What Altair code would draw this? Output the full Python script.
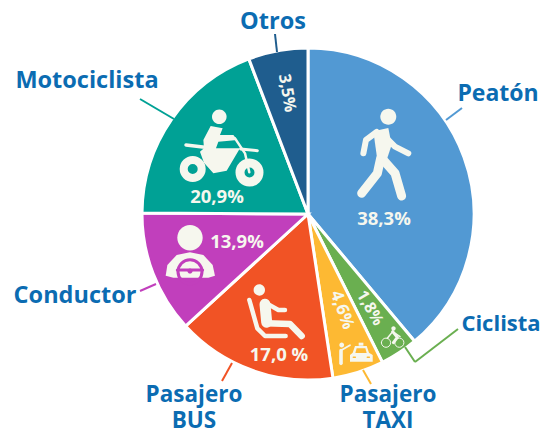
import altair as alt
import pandas as pd

categories = ["Peatón", "Ciclista", "Pasajero TAXI", "Pasajero BUS", "Conductor", "Motociclista", "Otros"]
# drawn share of each wedge, as measured on the picture (the printed labels differ)
drawn_share = [38.9, 3.7, 5.0, 15.6, 11.9, 19.1, 5.8]
colors = ["#5299d3", "#6aaf50", "#fdb933", "#f15325", "#c13fbc", "#00a195", "#1f5d8e"]
order = list(range(len(categories)))

OFF = 8
BLUE = "#0b6cb2"
ICON = "#f6f7ee"
FONT = "Open Sans"

df = pd.DataFrame({"cat": categories, "value": drawn_share, "idx": order})
one = pd.DataFrame({"a": [0]})

pie = alt.Chart(df).mark_arc(outerRadius=166, stroke="white", strokeWidth=3).encode(
    theta=alt.Theta("value:Q", stack=True),
    order=alt.Order("idx:Q"),
    color=alt.Color("cat:N", scale=alt.Scale(domain=categories, range=colors), legend=None),
    x=alt.value(308 - OFF),
    y=alt.value(214 - OFF),
)


def text(label, x, y, size=23.5, color=BLUE, angle=0):
    return alt.Chart(pd.DataFrame({"t": [label]})).mark_text(
        font=FONT, fontWeight="bold", fontSize=size, color=color, angle=angle,
        align="center", baseline="middle", lineBreak="\n", lineHeight=25.5,
    ).encode(text="t:N", x=alt.value(x - OFF), y=alt.value(y - OFF))


def rule(x1, y1, x2, y2, color):
    return alt.Chart(one).mark_rule(color=color, strokeWidth=2).encode(
        x=alt.value(x1 - OFF), y=alt.value(y1 - OFF), x2=alt.value(x2 - OFF), y2=alt.value(y2 - OFF)
    )


def line_path(points, cx, cy):
    return "M" + " L".join(f"{x - cx:.1f} {y - cy:.1f}" for x, y in points)


def glyph(path, cx, cy, color=ICON, filled=True, sw=0):
    # size 4 makes one path unit equal one pixel
    return alt.Chart(one).mark_point(
        shape=path, size=4, filled=filled, opacity=1,
        fill=color if filled else "transparent", stroke=color, strokeWidth=sw,
        strokeCap="round", strokeJoin="round",
    ).encode(x=alt.value(cx - OFF), y=alt.value(cy - OFF))


def dot(cx, cy, r, color=ICON):
    p = f"M{-r} 0 A{r} {r} 0 1 1 {r} 0 A{r} {r} 0 1 1 {-r} 0 Z"
    return glyph(p, cx, cy, color=color)


def ring(cx, cy, r, sw, color=ICON):
    p = f"M{-r} 0 A{r} {r} 0 1 1 {r} 0 A{r} {r} 0 1 1 {-r} 0 Z"
    return glyph(p, cx, cy, color=color, filled=False, sw=sw)


def stroke(points, sw, color=ICON, k=1 / 3, ox=0, oy=0):
    pts = [(ox + x * k, oy + y * k) for x, y in points]
    cx, cy = pts[0]
    return glyph(line_path(pts, cx, cy), cx, cy, color=color, filled=False, sw=sw)


def poly(points, color=ICON, k=1 / 3, ox=0, oy=0):
    pts = [(ox + x * k, oy + y * k) for x, y in points]
    cx, cy = pts[0]
    return glyph(line_path(pts, cx, cy) + " Z", cx, cy, color=color)


layers = [pie]

# leader lines
layers += [
    rule(446, 120, 462, 108, "#5299d3"),
    rule(405, 347, 415, 362, "#6aaf50"),
    rule(415, 362, 458, 329, "#6aaf50"),
    rule(363, 370, 371, 384, "#fdb933"),
    rule(232, 363, 222, 381, "#f15325"),
    rule(140, 291, 156, 284, "#c13fbc"),
    rule(140, 99, 174, 119, "#00a195"),
    rule(275, 34, 277, 52, "#1f5d8e"),
]

# walker
w = dict(ox=340, oy=110)
layers += [
    dot(388.3, 116.7, 8),
    poly([(100, 64), (145, 54), (155, 105), (138, 155), (112, 150)], **w),
    stroke([(110, 66), (78, 90), (70, 130)], 6, **w),
    stroke([(135, 80), (165, 110), (205, 130)], 6, **w),
    stroke([(122, 145), (112, 190), (65, 250)], 9, **w),
    stroke([(130, 150), (165, 190), (185, 258)], 9, **w),
]

# motorcycle
layers += [
    dot(219.3, 116.7, 7.3),
    ring(192.7, 169, 9, 8),
    ring(249.5, 172.5, 9.5, 9),
    poly([(632, 378), (668, 385), (660, 405), (700, 405), (712, 420), (655, 425), (648, 445), (690, 445),
          (720, 445), (680, 512), (640, 520), (612, 488), (600, 455), (612, 445), (610, 420)]),
    stroke([(705, 415), (735, 460), (748, 517)], 2.5),
    stroke([(558, 435), (640, 445)], 3.5),
    stroke([(722, 447), (772, 452)], 3),
]

# driver
d = dict(ox=150, oy=215)
layers += [
    dot(190, 237.7, 12.7),
    poly([(47, 182), (52, 150), (80, 120), (120, 112), (160, 120), (188, 150), (195, 182),
          (175, 188), (70, 188)], **d),
    ring(190, 271.7, 12, 3, color="#c13fbc"),
    stroke([(82, 165), (158, 165)], 3, color="#c13fbc", **d),
    dot(190, 271, 2.6, color="#c13fbc"),
]

# seated passenger
s = dict(ox=150, oy=215)
layers += [
    dot(259.3, 290, 5.7),
    stroke([(298, 255), (322, 340), (345, 363), (407, 363)], 4.5, **s),
    stroke([(345, 268), (350, 322)], 11, **s),
    stroke([(350, 265), (385, 285), (405, 285)], 4.5, **s),
    stroke([(350, 325), (420, 327), (455, 363)], 6.5, **s),
]

# cyclist
c = dict(ox=300, oy=260)
layers += [
    ring(386, 342.7, 4.6, 1),
    ring(399.3, 342.7, 4.6, 1),
    dot(393.5, 328.5, 2.2),
    stroke([(278, 215), (292, 232), (280, 248)], 3, **c),
    stroke([(262, 235), (278, 215), (300, 230)], 1.5, **c),
]

# taxi with passenger
t = dict(ox=300, oy=260)
layers += [
    dot(341.7, 345, 2.4),
    stroke([(123, 272), (123, 310)], 3.6, **t),
    stroke([(125, 270), (150, 256)], 1.8, **t),
    poly([(165, 258), (200, 258), (207, 278), (218, 285), (218, 305), (150, 305), (150, 285), (158, 278)], **t),
    poly([(170, 265), (196, 265), (200, 279), (166, 279)], color="#fdb933", **t),
    poly([(176, 248), (190, 248), (190, 257), (176, 257)], **t),
    stroke([(160, 292), (166, 292)], 1.5, color="#fdb933", **t),
    stroke([(202, 292), (208, 292)], 1.5, color="#fdb933", **t),
]

# percentage labels
layers += [
    text("38,3%", 384, 219, 18.5, ICON),
    text("20,9%", 217, 197, 18.5, ICON),
    text("13,9%", 237, 242, 18.5, ICON),
    text("17,0 %", 279, 355, 18.5, ICON),
    text("4,6%", 342, 310, 17, ICON, 70),
    text("1,8%", 370, 308, 16, ICON, 60),
    text("3,5%", 287, 93, 16.5, ICON, 80),
]

# category labels
layers += [
    text("Otros", 273, 22),
    text("Peatón", 498, 94, 23),
    text("Motociclista", 87, 81),
    text("Ciclista", 501, 324, 22),
    text("Conductor", 75, 296),
    text("Pasajero\nBUS", 194, 395, 22.5),
    text("Pasajero\nTAXI", 388, 395, 22.5),
]

chart = (
    alt.layer(*layers)
    .properties(width=532, height=420, padding=0, autosize=alt.AutoSizeParams(type="none"))
    .configure_view(stroke=None)
)
chart.save("out.html", embed_options={"renderer": "svg", "actions": False})
